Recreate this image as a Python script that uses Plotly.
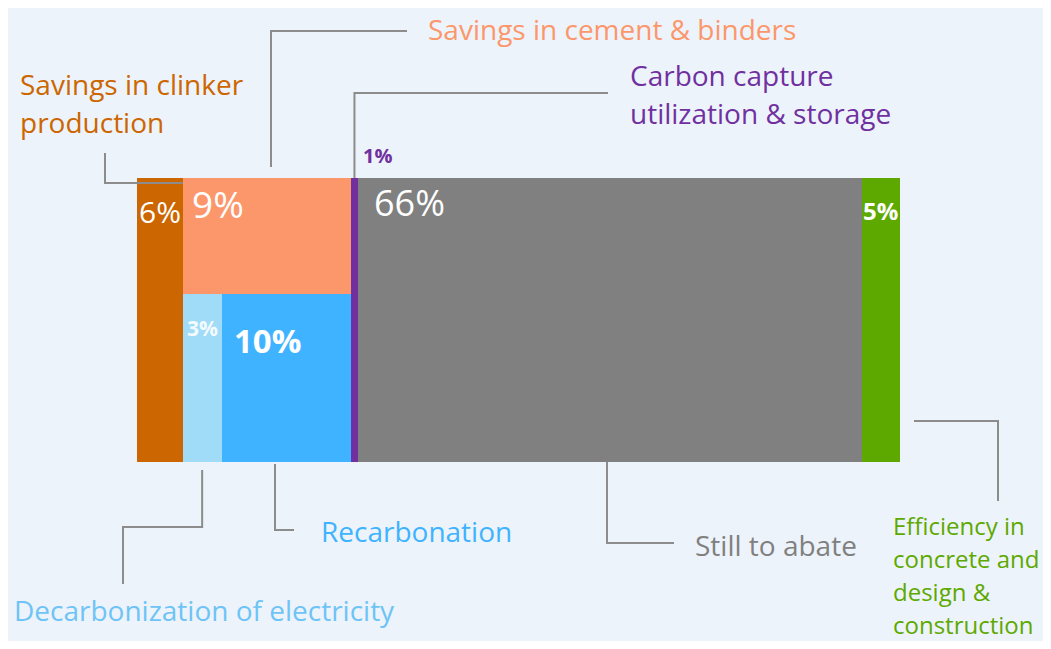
import plotly.graph_objects as go

# shares of emissions (%), one per lever
categories = [
    "Savings in clinker<br>production",
    "Savings in cement & binders",
    "Decarbonization of electricity",
    "Recarbonation",
    "Carbon capture<br>utilization & storage",
    "Still to abate",
    "Efficiency in<br>concrete and<br>design &<br>construction",
]
shares = [6, 9, 3, 10, 1, 66, 5]
# columns of the 100% bar; in a multi-item column the first sits on top
columns = [[0], [1, 2, 3], [4], [5], [6]]

bar_colors = ["#CC6600", "#FC976C", "#A0DCF8", "#3FB3FF", "#7030A0", "#808080", "#5EA900"]
text_colors = ["#CC6600", "#FC976C", "#6EC4F6", "#3FB3FF", "#7030A0", "#808080", "#5EA900"]

FONT = "Open Sans"
WIN_W, WIN_H = 1051, 649
PAGE_OFF = 8                 # default body margin of the html page
X0_PX, X_SCALE = 137, 7.63   # bar left edge in page px, px per unit
Y0_PX, Y_SCALE = 462, 2.84   # bar bottom in page px, px per unit
FIG_W, FIG_H = WIN_W - 2 * PAGE_OFF, WIN_H - 2 * PAGE_OFF


def dx(px):
    return (px - X0_PX) / X_SCALE


def dy(py):
    return (Y0_PX - py) / Y_SCALE


# marimekko geometry (x0, x1, y0, y1) in data units
geom = {}
left = 0
for col in columns:
    w = sum(shares[i] for i in col)
    if len(col) == 1:
        geom[col[0]] = (left, left + w, 0, 100)
    else:
        top = col[0]
        h = shares[top] / w * 100
        geom[top] = (left, left + w, 100 - h, 100)
        rest = col[1:]
        rw = sum(shares[i] for i in rest)
        x = left
        for i in rest:
            ww = shares[i] / rw * w
            geom[i] = (x, x + ww, 0, 100 - h)
            x += ww
    left += w

fig = go.Figure()
for i, (x0, x1, y0, y1) in geom.items():
    fig.add_trace(go.Bar(
        x=[(x0 + x1) / 2], y=[y1 - y0], base=[y0], width=[x1 - x0],
        marker=dict(color=bar_colors[i], line=dict(width=0)),
        name=categories[i].replace("<br>", " "),
        showlegend=False, hoverinfo="name",
    ))


def mid(i):
    return (geom[i][0] + geom[i][1]) / 2


# connector lines
connectors = [
    [(dx(105), dy(153)), (dx(105), dy(183)), (geom[0][1], dy(183))],
    [(dx(271), dy(167)), (dx(271), dy(31)), (dx(407), dy(31))],
    [(mid(4), 100), (mid(4), dy(93)), (dx(608), dy(93))],
    [(mid(2), dy(470)), (mid(2), dy(527)), (dx(123), dy(527)), (dx(123), dy(584))],
    [(dx(275), dy(464)), (dx(275), dy(530)), (dx(294), dy(530))],
    [(dx(607), 0), (dx(607), dy(543)), (dx(674), dy(543))],
    [(dx(914), dy(421)), (dx(998), dy(421)), (dx(998), dy(501))],
]
shapes = []
for pts in connectors:
    path = "M " + " L ".join(f"{x},{y}" for x, y in pts)
    shapes.append(dict(type="path", path=path, xref="x", yref="y",
                       line=dict(color="#8C8C8C", width=2)))

# category labels: (index, left px, first-line centre px, line spacing px, size)
label_pos = [
    (0, 18, 84, 38, 28),
    (1, 426, 29, 38, 28),
    (4, 628, 75, 38, 28),
    (3, 319, 531, 38, 28),
    (2, 12, 610, 38, 28),
    (5, 693, 545, 38, 28),
    (6, 891, 525, 33, 24),
]
annotations = []
for i, lx, ly, gap, size in label_pos:
    for k, line in enumerate(categories[i].split("<br>")):
        annotations.append(dict(
            x=dx(lx), y=dy(ly + k * gap), xref="x", yref="y",
            text=line, showarrow=False, xanchor="left", yanchor="middle",
            font=dict(family=FONT, size=size, color=text_colors[i]),
        ))

# percentage labels: (index, x, xanchor, y px, size, bold, colour)
pct_pos = [
    (0, mid(0), "center", 211, 30, False, "white"),
    (1, geom[1][0] + 7 / X_SCALE, "left", 203, 37, False, "white"),
    (2, mid(2), "center", 328, 21, True, "#F4FBFF"),
    (3, geom[3][0] + 10 / X_SCALE, "left", 340, 33, True, "white"),
    (4, geom[4][1] + 3 / X_SCALE, "left", 155, 20, True, "#7030A0"),
    (5, geom[5][0] + 14 / X_SCALE, "left", 202, 36, False, "white"),
    (6, mid(6), "center", 210, 24, True, "white"),
]
for i, x, anchor, py, size, bold, color in pct_pos:
    txt = f"{shares[i]}%"
    annotations.append(dict(
        x=x, y=dy(py), xref="x", yref="y",
        text=f"<b>{txt}</b>" if bold else txt,
        showarrow=False, xanchor=anchor, yanchor="middle",
        font=dict(family=FONT, size=size, color=color),
    ))

fig.update_layout(
    width=FIG_W, height=FIG_H,
    margin=dict(l=0, r=0, t=0, b=0),
    paper_bgcolor="#EDF3FA", plot_bgcolor="#EDF3FA",
    barmode="overlay", bargap=0,
    xaxis=dict(range=[dx(PAGE_OFF), dx(PAGE_OFF + FIG_W)], visible=False, fixedrange=True),
    yaxis=dict(range=[dy(PAGE_OFF + FIG_H), dy(PAGE_OFF)], visible=False, fixedrange=True),
    shapes=shapes, annotations=annotations,
    showlegend=False,
)

fig.write_html("out.html")
